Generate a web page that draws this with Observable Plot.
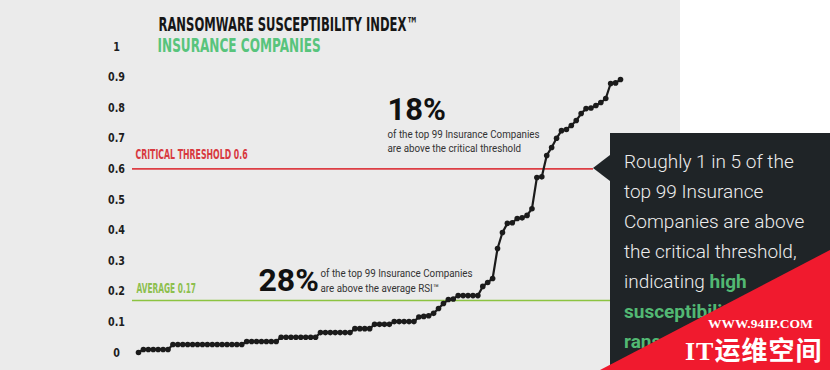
<!DOCTYPE html>
<html><head><meta charset="utf-8">
<script src="https://cdn.jsdelivr.net/npm/d3@7"></script>
<script src="https://cdn.jsdelivr.net/npm/@observablehq/plot@0.6"></script>
<style>
html,body{margin:0;padding:0;background:#fff;}
#wrap{position:relative;width:830px;height:370px;overflow:hidden;background:#fff;}
#bg{position:absolute;left:0;top:0;width:680px;height:370px;background:#ebebeb;}
#chart{position:absolute;left:0;top:0;}
#arrow{position:absolute;left:593px;top:155px;width:0;height:0;border-top:13px solid transparent;border-bottom:13px solid transparent;border-right:17px solid #1f2427;}
#callout{position:absolute;left:610px;top:133px;width:220px;height:237px;background:#1f2427;}
#callout .txt{position:absolute;left:14px;top:14px;font-family:Roboto,"Noto Sans",sans-serif;font-weight:300;font-size:19px;line-height:30px;color:#ededed;white-space:nowrap;}
#callout .txt b{color:#52b873;font-weight:700;}
#wm{position:absolute;left:600px;top:250px;width:230px;height:120px;background:#f01a2e;clip-path:polygon(0 100%,100% 0,100% 100%);}
#wm1{position:absolute;left:708px;top:316px;font-family:"Liberation Serif",serif;font-weight:bold;font-size:13.5px;color:#fff;white-space:nowrap;}
#wm2{position:absolute;left:685px;top:330px;font-family:"Liberation Serif","Noto Sans CJK SC",serif;font-weight:bold;font-size:26px;letter-spacing:1px;color:#fff;white-space:nowrap;}
</style>
</head><body>
<div id="wrap">
  <div id="bg"></div>
  <div id="chart"></div>
  <div id="arrow"></div>
  <div id="callout"><div class="txt">Roughly 1 in 5 of the<br>top 99 Insurance<br>Companies are above<br>the critical threshold,<br>indicating <b>high<br>susceptibility to<br>ransomware</b></div></div>
  <div id="wm"></div>
  <div id="wm1">WWW.94IP.COM</div>
  <div id="wm2">IT运维空间</div>
</div>
<script>
// Ransomware Susceptibility Index of the top 99 insurance companies, sorted ascending
const rsiValues = [
  0,
  0.01, 0.01, 0.01, 0.01, 0.01, 0.01,
  0.026, 0.026, 0.026, 0.026, 0.026, 0.026, 0.026, 0.026, 0.026, 0.026, 0.026, 0.026, 0.026, 0.026, 0.026,
  0.036, 0.036, 0.036, 0.036, 0.036, 0.036, 0.036,
  0.05, 0.05, 0.05, 0.05, 0.05, 0.05, 0.05, 0.05,
  0.065, 0.065, 0.065, 0.065, 0.065, 0.065, 0.065,
  0.078, 0.078, 0.078, 0.078,
  0.092, 0.092, 0.092, 0.092,
  0.101, 0.101, 0.101, 0.101, 0.101,
  0.116, 0.118, 0.12, 0.128, 0.144, 0.16, 0.173, 0.175,
  0.186, 0.186, 0.186, 0.186, 0.186,
  0.216, 0.229, 0.242, 0.34, 0.392, 0.422, 0.424, 0.438, 0.44, 0.448, 0.47,
  0.572, 0.574, 0.644, 0.67, 0.7, 0.725, 0.729, 0.742, 0.758, 0.781, 0.797, 0.799,
  0.807, 0.817, 0.83, 0.879, 0.881, 0.892
];
const yTicks = [0, 0.1, 0.2, 0.3, 0.4, 0.5, 0.6, 0.7, 0.8, 0.9, 1];
const yTickLabels = ["0", "0.1", "0.2", "0.3", "0.4", "0.5", "0.6", "0.7", "0.8", "0.9", "1"];
const criticalThreshold = 0.6;
const averageRSI = 0.17;
const titleText = "RANSOMWARE SUSCEPTIBILITY INDEX™";
const subtitleText = "INSURANCE COMPANIES";
const criticalLabel = "CRITICAL THRESHOLD 0.6";
const averageLabel = "AVERAGE 0.17";
const pctCritical = "18%";
const pctCriticalNote = "of the top 99 Insurance Companies\nare above the critical threshold";
const pctAverage = "28%";
const pctAverageNote = "of the top 99 Insurance Companies\nare above the average RSI™";

const data = rsiValues.map((v, i) => ({i, v}));
const narrow = '"Liberation Sans Narrow","Arial Narrow","DejaVu Sans Condensed",sans-serif';
const ink = "#1b1b1b";

const chart = Plot.plot({
  width: 830, height: 370,
  marginLeft: 138, marginRight: 210, marginTop: 46, marginBottom: 18,
  x: {domain: [0, rsiValues.length - 1], axis: null},
  y: {domain: [0, 1], axis: null},
  style: {background: "transparent", overflow: "visible"},
  marks: [
    Plot.ruleY([criticalThreshold], {stroke: "#dd3e44", strokeWidth: 1.6, insetLeft: -6, insetRight: 27}),
    Plot.ruleY([averageRSI], {stroke: "#8cc341", strokeWidth: 1.6, insetLeft: -6, insetRight: 10}),
    Plot.text([criticalLabel], {y: [criticalThreshold], text: d => d, frameAnchor: "left", textAnchor: "start", lineAnchor: "bottom", dx: -3, dy: -9.5, fontFamily: narrow, fontWeight: "bold", fontSize: 14, fill: "#d8393f"}),
    Plot.text([averageLabel], {y: [averageRSI], text: d => d, frameAnchor: "left", textAnchor: "start", lineAnchor: "bottom", dx: -2, dy: -7, fontFamily: narrow, fontWeight: "bold", fontSize: 14, fill: "#8dbf4e"}),
    Plot.text(yTicks, {y: d => d, text: (d, i) => yTickLabels[i], frameAnchor: "left", textAnchor: "middle", dx: -22, fontFamily: narrow, fontWeight: "bold", fontSize: 13, fill: "#1d1d1d"}),
    Plot.line(data, {x: "i", y: "v", stroke: ink, strokeWidth: 2.2}),
    Plot.dot(data, {x: "i", y: "v", r: 2.8, fill: ink}),
    Plot.text([titleText], {text: d => d, frameAnchor: "top-left", textAnchor: "start", lineAnchor: "bottom", dx: 20, dy: -15.5, fontFamily: narrow, fontWeight: "bold", fontSize: 19.5, fill: "#161616"}),
    Plot.text([subtitleText], {text: d => d, frameAnchor: "top-left", textAnchor: "start", lineAnchor: "bottom", dx: 19, dy: 5, fontFamily: narrow, fontWeight: "bold", fontSize: 19.5, fill: "#58c47c"}),
    Plot.text([pctCritical], {text: d => d, frameAnchor: "top-left", textAnchor: "start", lineAnchor: "bottom", dx: 249, dy: 73, fontFamily: "Roboto", fontWeight: "bold", fontSize: 31, fill: "#111"}),
    Plot.text([pctCriticalNote], {text: d => d, frameAnchor: "top-left", textAnchor: "start", lineAnchor: "bottom", lineHeight: 1.27, dx: 249, dy: 105, fontFamily: "Roboto", fontSize: 11, fill: "#333"}),
    Plot.text([pctAverage], {text: d => d, frameAnchor: "top-left", textAnchor: "start", lineAnchor: "bottom", dx: 120, dy: 244, fontFamily: "Roboto", fontWeight: "bold", fontSize: 32, fill: "#111"}),
    Plot.text([pctAverageNote], {text: d => d, frameAnchor: "top-left", textAnchor: "start", lineAnchor: "bottom", lineHeight: 1.36, dx: 182, dy: 245, fontFamily: "Roboto", fontSize: 11, fill: "#333"})
  ]
});

// horizontal condensing of the narrow display type (style only)
const condenseBy = new Map([
  [titleText, 0.66], [subtitleText, 0.69],
  [criticalLabel, 0.62], [averageLabel, 0.59],
  [pctCriticalNote.replace("\n", ""), 0.89], [pctAverageNote.replace("\n", ""), 0.89],
  ...yTickLabels.map(l => [l, 0.82])
]);
d3.select(chart).selectAll("text").each(function () {
  const s = condenseBy.get(this.textContent);
  if (s) this.setAttribute("transform", (this.getAttribute("transform") || "") + ` scale(${s},1)`);
});

document.getElementById("chart").appendChild(chart);
</script>
</body></html>
